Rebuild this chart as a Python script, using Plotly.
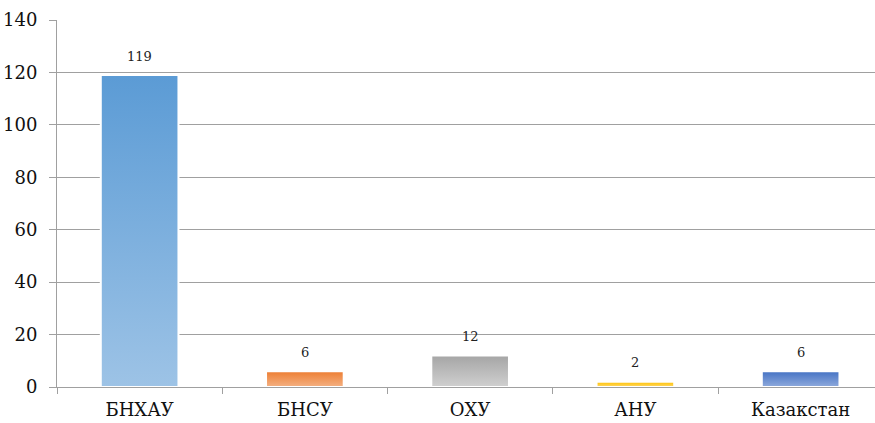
import json
import plotly.graph_objects as go

categories = ["БНХАУ", "БНСУ", "ОХУ", "АНУ", "Казакстан"]
values = [119, 6, 12, 2, 6]
y_ticks = [0, 20, 40, 60, 80, 100, 120, 140]

top_colors = ["#5B9BD5", "#ED7D31", "#A5A5A5", "#FFC000", "#4472C4"]
bottom_colors = ["#9DC3E6", "#F4B183", "#D0D0D0", "#FFD966", "#8FAADC"]
mid_colors = ["#7CAFDD", "#F1975A", "#BBBBBB", "#FFCC33", "#6A8ED0"]

FONT = "DejaVu Serif"

fig = go.Figure()
fig.add_trace(go.Bar(
    x=categories, y=values, width=0.47,
    marker=dict(color=mid_colors, line=dict(color="white", width=2)),
    hoverinfo="skip",
))

for c, v in zip(categories, values):
    fig.add_annotation(x=c, y=v, text=str(v), showarrow=False, yshift=19,
                       yanchor="middle", font=dict(family=FONT, size=13, color="#222"))

fig.update_layout(
    width=875, height=423,
    margin=dict(l=57, r=0, t=20, b=36, autoexpand=False),
    paper_bgcolor="white", plot_bgcolor="white",
    showlegend=False,
    font=dict(family=FONT, size=18, color="#111"),
    bargap=0.53,
)
fig.update_xaxes(
    range=[-0.5, 4.45], automargin=False, showgrid=False, showline=True,
    linecolor="#A0A0A0", linewidth=1,
    ticks="outside", tickson="boundaries", ticklen=6, tickcolor="#A0A0A0",
    ticklabelstandoff=6, tickfont=dict(family=FONT, size=18, color="#111"),
)
fig.update_yaxes(
    range=[0, 140], tickvals=y_ticks, automargin=False, showgrid=True,
    gridcolor="#A0A0A0", gridwidth=1,
    showline=True, linecolor="#A0A0A0", linewidth=1, zeroline=False,
    ticks="outside", ticklen=7, tickcolor="#A0A0A0", ticklabelstandoff=8,
    tickfont=dict(family=FONT, size=18, color="#111"),
)

post = """
document.body.style.margin = '0';
document.body.style.overflow = 'hidden';
var gd = document.getElementById('{plot_id}');
var tops = TOPS, bots = BOTS;
var ns = 'http://www.w3.org/2000/svg';
var svg = gd.querySelector('svg.main-svg');
var defs = svg.querySelector('defs');
if (!defs) { defs = document.createElementNS(ns, 'defs'); svg.insertBefore(defs, svg.firstChild); }
var paths = gd.querySelectorAll('.barlayer .point path');
paths.forEach(function(p, i) {
  var g = document.createElementNS(ns, 'linearGradient');
  g.setAttribute('id', 'bargrad' + i);
  g.setAttribute('x1', '0'); g.setAttribute('y1', '0');
  g.setAttribute('x2', '0'); g.setAttribute('y2', '1');
  var s1 = document.createElementNS(ns, 'stop');
  s1.setAttribute('offset', '0'); s1.setAttribute('stop-color', tops[i]);
  var s2 = document.createElementNS(ns, 'stop');
  s2.setAttribute('offset', '1'); s2.setAttribute('stop-color', bots[i]);
  g.appendChild(s1); g.appendChild(s2); defs.appendChild(g);
  p.style.fill = 'url(#bargrad' + i + ')';
});
""".replace("TOPS", json.dumps(top_colors)).replace("BOTS", json.dumps(bottom_colors))

fig.write_html("out.html", post_script=post, config={"displayModeBar": False})
